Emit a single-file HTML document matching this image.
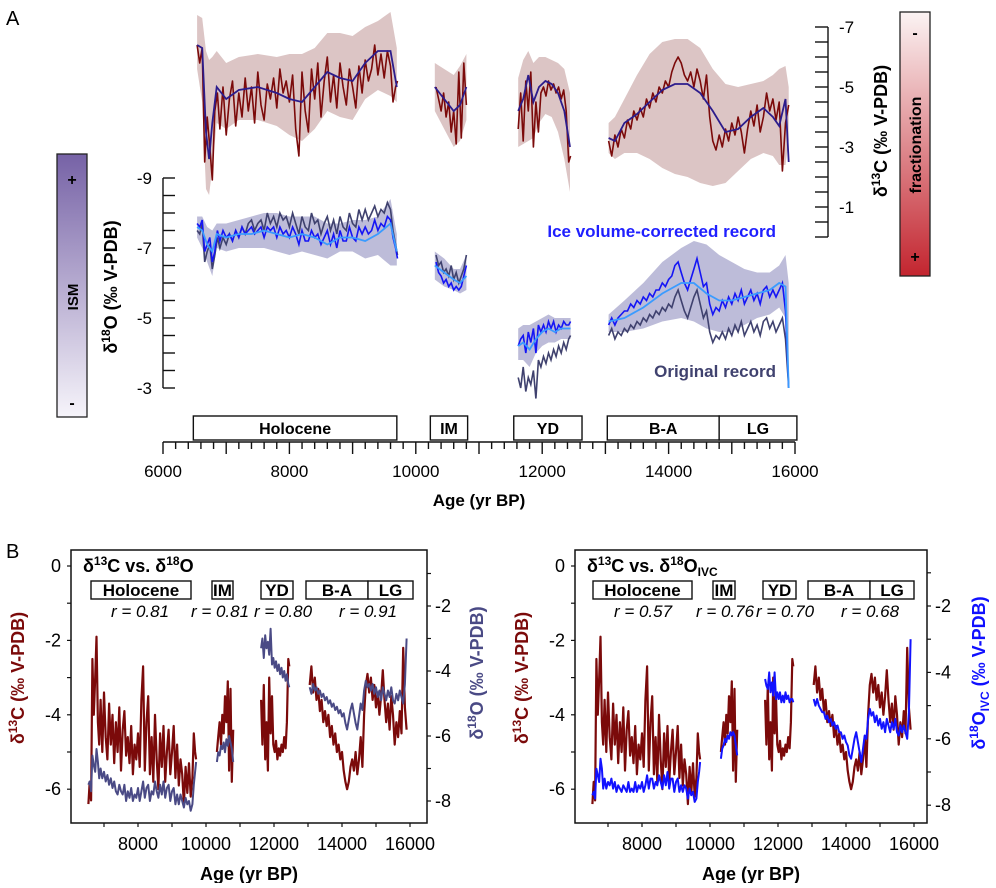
<!DOCTYPE html>
<html><head><meta charset="utf-8"><style>
html,body{margin:0;padding:0;background:#fff;}
svg text{font-family:"Liberation Sans",Arial,sans-serif;}
</style></head><body>
<svg id="fig" xmlns="http://www.w3.org/2000/svg" width="996" height="883" viewBox="0 0 996 883">
<defs>
<linearGradient id="gISM" x1="0" y1="0" x2="0" y2="1"><stop offset="0" stop-color="#7662a6"/><stop offset="1" stop-color="#f6f4fa"/></linearGradient>
<linearGradient id="gFr" x1="0" y1="0" x2="0" y2="1"><stop offset="0" stop-color="#fbf3f3"/><stop offset="1" stop-color="#c3252f"/></linearGradient>
</defs>
<text x="6" y="25" font-size="20">A</text>
<text x="6" y="558" font-size="20">B</text>
<g>
<rect x="57" y="154" width="30" height="263" fill="url(#gISM)" stroke="#222" stroke-width="1.3"/>
<text x="72" y="185" font-size="16" text-anchor="middle" font-weight="bold">+</text>
<text x="72" y="408" font-size="16" text-anchor="middle" font-weight="bold">-</text>
<text transform="translate(78,297) rotate(-90)" font-size="15" text-anchor="middle" font-weight="bold">ISM</text>
</g>
<g>
<rect x="900" y="12" width="30" height="264" fill="url(#gFr)" stroke="#222" stroke-width="1.3"/>
<text x="915" y="38" font-size="16" text-anchor="middle" font-weight="bold">-</text>
<text x="915" y="262" font-size="16" text-anchor="middle" font-weight="bold">+</text>
<text transform="translate(921,145) rotate(-90)" font-size="16" text-anchor="middle" font-weight="bold">fractionation</text>
</g>
<text transform="translate(117,287) rotate(-90)" font-size="18" text-anchor="middle" font-weight="bold">δ<tspan font-size="12" dy="-7">18</tspan><tspan dy="7">O (‰ V-PDB)</tspan></text>
<text transform="translate(887,131) rotate(-90)" font-size="18" text-anchor="middle" font-weight="bold">δ<tspan font-size="12" dy="-7">13</tspan><tspan dy="7">C (‰ V-PDB)</tspan></text>
<text x="479" y="506" font-size="17" text-anchor="middle" font-weight="bold">Age (yr BP)</text>
<text x="776" y="237" font-size="17" text-anchor="end" font-weight="bold" fill="#1f1fff">Ice volume-corrected record</text>
<text x="776" y="377" font-size="17" text-anchor="end" font-weight="bold" fill="#40426f">Original record</text>
<g id="gA"></g><g id="gBL"></g><g id="gBR"></g>
<text transform="translate(24,678) rotate(-90)" font-size="18" text-anchor="middle" font-weight="bold" fill="#7b0a0a">δ<tspan font-size="12" dy="-7">13</tspan><tspan dy="7">C (‰ V-PDB)</tspan></text>
<text transform="translate(483,673) rotate(-90)" font-size="18" text-anchor="middle" font-weight="bold" fill="#4a4a85">δ<tspan font-size="12" dy="-7">18</tspan><tspan dy="7">O (‰ V-PDB)</tspan></text>
<text transform="translate(528,678) rotate(-90)" font-size="18" text-anchor="middle" font-weight="bold" fill="#7b0a0a">δ<tspan font-size="12" dy="-7">13</tspan><tspan dy="7">C (‰ V-PDB)</tspan></text>
<text transform="translate(985,673) rotate(-90)" font-size="18" text-anchor="middle" font-weight="bold" fill="#1010ff">δ<tspan font-size="12" dy="-7">18</tspan><tspan dy="7">O</tspan><tspan font-size="12" dy="4">IVC</tspan><tspan dy="-4"> (‰ V-PDB)</tspan></text>
<text x="249" y="880" font-size="18" text-anchor="middle" font-weight="bold">Age (yr BP)</text>
<text x="751" y="880" font-size="18" text-anchor="middle" font-weight="bold">Age (yr BP)</text>
<text x="83" y="572" font-size="18" font-weight="bold">δ<tspan font-size="12" dy="-7">13</tspan><tspan dy="7">C vs. δ</tspan><tspan font-size="12" dy="-7">18</tspan><tspan dy="7">O</tspan></text>
<text x="587" y="572" font-size="18" font-weight="bold">δ<tspan font-size="12" dy="-7">13</tspan><tspan dy="7">C vs. δ</tspan><tspan font-size="12" dy="-7">18</tspan><tspan dy="7">O</tspan><tspan font-size="12" dy="4">IVC</tspan></text>
</svg>
<script>
// ---------- data ----------
const holAge=[6540,6580,6620,6660,6700,6740,6780,6820,6860,6900,6950,7000,7050,7100,7150,7200,7250,7300,7350,7400,7450,7500,7550,7600,7650,7700,7750,7800,7850,7900,7950,8000,8050,8100,8150,8200,8250,8300,8350,8400,8450,8500,8550,8600,8650,8700,8750,8800,8850,8900,8950,9000,9050,9100,9150,9200,9250,9300,9350,9400,9450,9500,9550,9600,9640,9680,9710];
const holC=[-6.4,-5.8,-6.3,-2.5,-4.0,-3.0,-1.9,-4.2,-4.8,-3.6,-5.0,-3.4,-4.6,-5.2,-3.7,-4.8,-4.0,-5.3,-4.2,-5.0,-3.8,-5.5,-4.4,-3.9,-5.1,-4.6,-5.3,-4.3,-5.6,-4.8,-5.2,-4.5,-5.4,-3.6,-2.7,-5.5,-4.2,-3.5,-5.6,-4.6,-5.8,-4.0,-5.2,-6.0,-4.5,-5.4,-4.3,-5.8,-5.0,-4.4,-5.6,-5.0,-4.3,-5.7,-4.8,-5.9,-5.2,-5.6,-6.4,-5.4,-6.1,-5.3,-6.2,-5.7,-4.5,-5.0,-5.2];
const holO=[-7.5,-7.4,-7.7,-6.6,-6.9,-7.1,-6.4,-6.8,-7.3,-7.0,-7.3,-7.1,-7.4,-7.2,-7.5,-7.3,-7.6,-7.4,-7.7,-7.8,-7.5,-7.7,-7.8,-7.5,-8.0,-7.7,-7.9,-7.6,-8.0,-7.8,-7.9,-7.6,-8.0,-7.7,-7.4,-7.9,-7.6,-7.5,-8.0,-7.7,-7.8,-7.4,-7.7,-7.9,-7.5,-7.8,-7.4,-7.9,-7.6,-7.5,-8.0,-7.7,-7.6,-8.1,-7.8,-8.1,-7.8,-8.0,-8.2,-7.9,-8.1,-8.0,-8.3,-8.1,-7.5,-7.1,-6.8];
const holI=[-7.7,-7.6,-7.8,-6.9,-7.1,-7.3,-6.6,-6.9,-7.5,-7.2,-7.5,-7.3,-7.4,-7.2,-7.5,-7.3,-7.6,-7.4,-7.5,-7.6,-7.4,-7.5,-7.6,-7.3,-7.6,-7.5,-7.6,-7.3,-7.6,-7.4,-7.5,-7.3,-7.6,-7.4,-7.1,-7.5,-7.2,-7.2,-7.5,-7.3,-7.4,-7.1,-7.3,-7.5,-7.1,-7.4,-7.0,-7.5,-7.2,-7.2,-7.6,-7.3,-7.2,-7.6,-7.4,-7.6,-7.4,-7.5,-7.8,-7.5,-7.7,-7.6,-7.9,-7.8,-7.3,-7.0,-6.7];
const imAge=[10320,10360,10400,10440,10480,10520,10560,10600,10640,10680,10720,10760,10800];
const imC=[-5.0,-4.6,-4.2,-4.8,-4.0,-4.5,-3.5,-4.2,-3.1,-5.5,-3.3,-5.8,-4.4];
const imO=[-6.8,-6.5,-6.6,-6.3,-6.4,-6.2,-6.5,-6.1,-6.3,-6.0,-6.2,-6.4,-6.8];
const imI=[-6.6,-6.3,-6.2,-6.0,-6.1,-5.9,-6.0,-5.8,-5.9,-5.8,-5.9,-6.2,-6.5];
const ydAge=[11620,11660,11700,11740,11780,11820,11860,11900,11940,11980,12020,12060,12100,12140,12180,12220,12260,12300,12340,12380,12420,12450];
const ydC=[-3.6,-4.8,-3.2,-5.2,-4.2,-5.5,-3.0,-4.5,-3.5,-4.8,-5.0,-4.7,-5.2,-4.9,-5.1,-4.8,-5.0,-4.6,-4.9,-4.2,-2.5,-2.7];
const ydO=[-3.3,-3.0,-3.6,-2.9,-3.3,-3.1,-3.5,-2.7,-3.8,-3.6,-3.9,-3.7,-4.0,-3.8,-4.1,-3.9,-4.2,-4.0,-4.3,-4.1,-4.4,-4.5];
const ydI=[-4.2,-4.4,-4.5,-4.0,-4.6,-4.3,-4.7,-4.0,-4.8,-4.6,-4.8,-4.6,-4.9,-4.7,-4.9,-4.6,-4.8,-4.7,-4.9,-4.8,-4.8,-4.9];
const baAge=[13050,13100,13150,13200,13250,13300,13350,13400,13450,13500,13550,13600,13650,13700,13750,13800,13850,13900,13950,14000,14050,14100,14150,14200,14250,14300,14350,14400,14450,14500,14550,14600,14650,14700,14750,14800,14850,14900,14950,15000,15050,15100,15150,15200,15250,15300,15350,15400,15450,15500,15550,15600,15650,15700,15750,15800,15850,15900];
const baC=[-3.2,-2.7,-3.4,-3.0,-3.6,-3.3,-3.9,-3.6,-4.2,-3.9,-4.3,-4.0,-4.6,-4.3,-4.8,-4.5,-5.0,-4.8,-5.2,-5.0,-5.5,-5.8,-6.0,-5.8,-5.4,-5.2,-5.5,-5.0,-5.6,-5.2,-4.6,-5.4,-4.0,-3.2,-2.9,-3.4,-3.0,-3.6,-3.2,-3.8,-3.4,-4.0,-3.5,-2.8,-3.6,-4.2,-3.7,-4.4,-3.5,-4.0,-4.8,-4.2,-4.6,-3.9,-4.5,-2.2,-3.8,-4.4];
const baO=[-4.5,-4.7,-4.4,-4.6,-4.5,-4.7,-4.6,-4.8,-4.7,-4.9,-4.8,-5.0,-4.9,-5.1,-5.0,-5.2,-5.1,-5.3,-5.2,-5.4,-5.3,-5.6,-5.8,-5.5,-5.2,-5.0,-5.3,-5.6,-5.8,-5.4,-5.0,-5.2,-4.6,-4.3,-4.5,-4.4,-4.6,-4.4,-4.7,-4.5,-4.8,-4.6,-4.9,-4.5,-4.7,-4.9,-4.6,-4.8,-4.5,-4.9,-5.0,-4.7,-4.9,-4.6,-4.8,-5.0,-4.4,-3.0];
const baI=[-4.8,-5.0,-4.8,-5.0,-5.1,-5.2,-5.2,-5.4,-5.3,-5.5,-5.4,-5.6,-5.5,-5.7,-5.6,-5.8,-5.8,-6.0,-5.9,-6.1,-6.2,-6.5,-6.6,-6.3,-6.0,-5.8,-6.1,-6.4,-6.7,-6.3,-5.9,-6.0,-5.4,-5.1,-5.3,-5.2,-5.5,-5.3,-5.6,-5.4,-5.7,-5.5,-5.8,-5.4,-5.6,-5.8,-5.5,-5.7,-5.4,-5.8,-5.9,-5.6,-5.8,-5.6,-5.8,-6.0,-5.2,-3.0];
// smoothed d13C with band (panel A)
const csHolAge=[6540,6620,6680,6730,6780,6850,7000,7200,7500,7800,8000,8200,8400,8600,8800,9000,9200,9400,9600,9700];
const csHol=[-6.4,-6.3,-3.5,-2.6,-3.8,-5.0,-4.6,-4.9,-5.0,-4.8,-4.6,-4.5,-5.0,-5.5,-5.3,-5.2,-5.8,-6.2,-6.2,-5.0];
const csHolHi=[-7.4,-7.3,-6.2,-5.9,-6.0,-6.2,-5.8,-6.0,-6.1,-6.0,-6.1,-6.1,-6.3,-6.8,-6.8,-6.7,-7.0,-7.2,-7.5,-6.3];
const csHolLo=[-5.6,-4.5,-1.6,-1.4,-2.3,-3.8,-3.6,-3.9,-3.9,-3.7,-3.4,-3.2,-3.6,-4.2,-4.0,-3.9,-4.6,-4.9,-4.7,-4.5];
const csImAge=[10300,10450,10600,10700,10800];
const csIm=[-5.0,-4.6,-4.2,-4.4,-5.0];
const csImHi=[-5.8,-5.6,-5.4,-5.7,-6.1];
const csImLo=[-4.2,-3.6,-3.0,-3.2,-3.9];
const csYdAge=[11620,11700,11780,11860,11950,12050,12150,12250,12350,12440];
const csYd=[-4.2,-4.6,-5.4,-4.5,-5.0,-5.2,-5.1,-4.8,-4.2,-3.0];
const csYdHi=[-5.3,-5.9,-6.2,-5.8,-6.0,-6.0,-5.9,-5.8,-5.6,-4.8];
const csYdLo=[-3.0,-3.1,-3.2,-3.3,-3.8,-4.1,-4.0,-3.5,-2.6,-1.5];
const csBaAge=[13050,13150,13300,13500,13700,13900,14100,14300,14500,14700,14900,15100,15300,15500,15650,15750,15850,15900];
const csBa=[-3.3,-3.2,-3.8,-4.1,-4.5,-4.9,-5.1,-5.1,-4.8,-4.2,-3.5,-3.6,-4.0,-4.3,-4.0,-3.7,-4.6,-2.5];
const csBaHi=[-3.8,-4.0,-4.6,-5.4,-6.1,-6.5,-6.6,-6.6,-6.3,-5.6,-5.1,-5.0,-5.1,-5.2,-5.4,-5.6,-5.7,-5.0];
const csBaLo=[-2.8,-2.6,-2.8,-2.8,-2.6,-2.3,-2.1,-2.0,-1.8,-1.7,-1.8,-2.2,-2.6,-2.8,-2.7,-2.4,-2.4,-3.2];
// smoothed d18O IVC with band (panel A)
const osHolAge=[6540,6620,6700,6780,6850,7000,7200,7400,7600,7800,8000,8200,8400,8600,8800,9000,9200,9400,9600,9700];
const osHol=[-7.6,-7.5,-7.1,-6.9,-7.4,-7.3,-7.4,-7.4,-7.5,-7.4,-7.3,-7.4,-7.3,-7.1,-7.3,-7.3,-7.2,-7.4,-7.7,-6.9];
const osHolHi=[-7.9,-7.9,-7.6,-7.5,-7.7,-7.7,-7.8,-7.9,-8.0,-8.0,-7.9,-7.9,-7.9,-7.7,-7.7,-7.8,-7.8,-7.9,-8.4,-7.4];
const osHolLo=[-7.3,-7.0,-6.6,-6.2,-7.0,-6.9,-7.0,-7.0,-7.0,-6.9,-6.8,-6.9,-6.8,-6.7,-6.9,-6.9,-6.7,-6.8,-6.5,-6.5];
const osImAge=[10300,10450,10600,10700,10800];
const osIm=[-6.5,-6.3,-6.1,-6.0,-6.2];
const osImHi=[-6.9,-6.7,-6.4,-6.4,-6.8];
const osImLo=[-6.1,-5.9,-5.8,-5.7,-5.8];
const osYdAge=[11620,11700,11800,11900,12000,12100,12200,12300,12450];
const osYd=[-4.2,-4.3,-4.1,-4.4,-4.6,-4.7,-4.6,-4.7,-4.7];
const osYdHi=[-4.7,-4.8,-4.8,-4.9,-5.0,-5.1,-5.0,-5.0,-5.0];
const osYdLo=[-3.8,-3.8,-3.6,-4.0,-4.2,-4.3,-4.3,-4.4,-4.4];
const osBaAge=[13050,13300,13600,13900,14200,14400,14600,14800,15000,15200,15400,15600,15750,15850,15900];
const osBa=[-4.9,-5.0,-5.3,-5.7,-6.0,-6.0,-5.7,-5.5,-5.5,-5.6,-5.7,-5.8,-6.0,-5.9,-3.0];
const osBaHi=[-5.1,-5.5,-6.0,-6.6,-7.0,-7.2,-7.1,-6.8,-6.6,-6.4,-6.3,-6.3,-6.5,-6.8,-6.0];
const osBaLo=[-4.6,-4.6,-4.7,-4.9,-5.0,-4.9,-4.7,-4.6,-4.6,-4.8,-5.0,-5.1,-5.3,-5.0,-3.0];
// periods and labels
const periodNames=["Holocene","IM","YD","B-A","LG"];
const periodStart=[6480,10230,11550,13030,14800];
const periodEnd=[9700,10820,12630,14800,16030];
const rLeft=["r = 0.81","r = 0.81","r = 0.80","r = 0.91"];
const rRight=["r = 0.57","r = 0.76","r = 0.70","r = 0.68"];
const xTicksA=[6000,8000,10000,12000,14000,16000];
const xTicksB=[8000,10000,12000,14000,16000];

// ---------- helpers ----------
const NS="http://www.w3.org/2000/svg";
function mk(parent,tag,attrs){const e=document.createElementNS(NS,tag);for(const k in attrs)e.setAttribute(k,attrs[k]);parent.appendChild(e);return e;}
function pathD(ages,vals,fx,fy){return ages.map((a,i)=>(i?'L':'M')+fx(a).toFixed(1)+','+fy(vals[i]).toFixed(1)).join('');}
function bandD(ages,hi,lo,fx,fy){let d=pathD(ages,hi,fx,fy);for(let i=ages.length-1;i>=0;i--)d+='L'+fx(ages[i]).toFixed(1)+','+fy(lo[i]).toFixed(1);return d+'Z';}
const segs=[[holAge,holC,holO,holI],[imAge,imC,imO,imI],[ydAge,ydC,ydO,ydI],[baAge,baC,baO,baI]];
const cSm=[[csHolAge,csHol,csHolHi,csHolLo],[csImAge,csIm,csImHi,csImLo],[csYdAge,csYd,csYdHi,csYdLo],[csBaAge,csBa,csBaHi,csBaLo]];
const oSm=[[osHolAge,osHol,osHolHi,osHolLo],[osImAge,osIm,osImHi,osImLo],[osYdAge,osYd,osYdHi,osYdLo],[osBaAge,osBa,osBaHi,osBaLo]];

// ---------- panel A ----------
const gA=document.getElementById('gA');
const xA=a=>163+(a-6000)*0.0632;
const yAC=v=>27+(v+7)*30;
const yAO=v=>178+(v+9)*35;
cSm.forEach(s=>{
  const p=mk(gA,'path',{d:bandD(s[0],s[2],s[3],xA,yAC),fill:'#dcc5c5'});
  
  
});
oSm.forEach(s=>{
  const p=mk(gA,'path',{d:bandD(s[0],s[2],s[3],xA,yAO),fill:'#bdbcd9'});
  
  
});
segs.forEach(s=>{
  const p=mk(gA,'path',{d:pathD(s[0],s[1],xA,yAC),fill:'none',stroke:'#7b0a0a','stroke-width':1.6,'stroke-linejoin':'round'});
  
  
  const q=mk(gA,'path',{d:pathD(s[0],s[2],xA,yAO),fill:'none',stroke:'#3f416e','stroke-width':1.6});
  
  
  const r=mk(gA,'path',{d:pathD(s[0],s[3],xA,yAO),fill:'none',stroke:'#1515f5','stroke-width':1.6});
  
  
});
cSm.forEach(s=>{
  const p=mk(gA,'path',{d:pathD(s[0],s[1],xA,yAC),fill:'none',stroke:'#2c1c8c','stroke-width':1.8});
  
  
});
oSm.forEach(s=>{
  const p=mk(gA,'path',{d:pathD(s[0],s[1],xA,yAO),fill:'none',stroke:'#3a9bff','stroke-width':1.8});
  
  
});
const axL=mk(gA,'g',{stroke:'#111','stroke-width':1.4});


mk(axL,'line',{x1:163,y1:yAO(-9),x2:163,y2:yAO(-3)});
for(let v=-9;v<=-3.0001;v+=0.5){mk(axL,'line',{x1:163,y1:yAO(v),x2:175,y2:yAO(v)});}
mk(axL,'line',{x1:163,y1:yAO(-3),x2:175,y2:yAO(-3)});
[-9,-7,-5,-3].forEach(v=>{const t=mk(gA,'text',{x:152,y:yAO(v)+6,'font-size':17,'text-anchor':'end'});t.textContent=v;

});
const axR=mk(gA,'g',{stroke:'#111','stroke-width':1.4});


mk(axR,'line',{x1:828,y1:yAC(-7),x2:828,y2:yAC(0)});
for(let v=-7;v<=0.0001;v+=0.5){mk(axR,'line',{x1:815,y1:yAC(v),x2:828,y2:yAC(v)});}
[-7,-5,-3,-1].forEach(v=>{const t=mk(gA,'text',{x:839,y:yAC(v)+6,'font-size':17});t.textContent=v;

});
const axX=mk(gA,'g',{stroke:'#111','stroke-width':1.4});


mk(axX,'line',{x1:xA(6000),y1:442,x2:xA(16000),y2:442});
for(let a=6000;a<=16000;a+=200){const maj=a%1000===0;mk(axX,'line',{x1:xA(a),y1:442,x2:xA(a),y2:maj?454:449});}
xTicksA.forEach(a=>{const t=mk(gA,'text',{x:xA(a),y:477,'font-size':17,'text-anchor':'middle'});t.textContent=a;

});
periodNames.forEach((n,i)=>{
  const r=mk(gA,'rect',{x:xA(periodStart[i]),y:416,width:xA(periodEnd[i])-xA(periodStart[i]),height:24,fill:'#fff',stroke:'#111','stroke-width':1.4});
  
  
  const t=mk(gA,'text',{x:(xA(periodStart[i])+xA(periodEnd[i]))/2,y:434,'font-size':16,'font-weight':'bold','text-anchor':'middle'});t.textContent=n;
  
  
});

// ---------- panel B ----------
const rX={bl:[140,220,283,368],br:[643,725,785,870]};
function panelB(gid,x0,oColor,oIdx,rLabels,pfx,periodX,yO,boxL,boxR){
  const g=document.getElementById(gid);
  const xB=a=>x0+(a-8000)*0.034;
  const yC=v=>566-v*37.2;
  segs.forEach(s=>{
    const p=mk(g,'path',{d:pathD(s[0],s[1],xB,yC),fill:'none',stroke:'#7b0a0a','stroke-width':2.2,'stroke-linejoin':'round'});
    
    
  });
  segs.forEach(s=>{
    const p=mk(g,'path',{d:pathD(s[0],s[oIdx],xB,yO),fill:'none',stroke:oColor,'stroke-width':2,'stroke-linejoin':'round'});
    
    
  });
  const box=mk(g,'rect',{x:boxL,y:550,width:boxR-boxL,height:273,fill:'none',stroke:'#111','stroke-width':1.5});
  
  
  const ax=mk(g,'g',{stroke:'#111','stroke-width':1.2});
  
  
  for(let v=0;v>=-6;v--){mk(ax,'line',{x1:boxL-4,y1:yC(v),x2:boxL,y2:yC(v)});
    if(v%2===0){const t=mk(g,'text',{x:boxL-10,y:yC(v)+6,'font-size':18,'text-anchor':'end'});t.textContent=v;
    
    }}
  for(let v=-1;v>=-8;v--){mk(ax,'line',{x1:boxR,y1:yO(v),x2:boxR+4,y2:yO(v)});
    if(v%2===0){const t=mk(g,'text',{x:boxR+8,y:yO(v)+6,'font-size':18});t.textContent=v;
    
    }}
  for(let a=7000;a<=16000;a+=1000){mk(ax,'line',{x1:xB(a),y1:823,x2:xB(a),y2:827});}
  xTicksB.forEach(a=>{const t=mk(g,'text',{x:xB(a),y:850,'font-size':18,'text-anchor':'middle'});t.textContent=a;
    
    });
  periodNames.forEach((n,i)=>{
    const r=mk(g,'rect',{x:periodX[i][0],y:581,width:periodX[i][1]-periodX[i][0],height:18,fill:'#fff',stroke:'#111','stroke-width':1.4});
    
    
    const t=mk(g,'text',{x:(periodX[i][0]+periodX[i][1])/2,y:596,'font-size':17,'font-weight':'bold','text-anchor':'middle'});t.textContent=n;
    
    
  });
  rLabels.forEach((s,i)=>{
    const t=mk(g,'text',{x:rX[pfx][i],y:617,'font-size':17,'font-style':'italic','text-anchor':'middle'});t.textContent=s;
    
    
  });
}
panelB('gBL',138,'#4a4a85',2,rLeft,'bl',[[91,191],[212,233],[261,293],[306,368],[368,413]],v=>606+(-2-v)*32.5,71,427);
panelB('gBR',642,'#1212ff',3,rRight,'br',[[593,692],[713,735],[763,796],[808,870],[870,914]],v=>606+(-2-v)*33.2,575,927);
</script>
</body></html>
